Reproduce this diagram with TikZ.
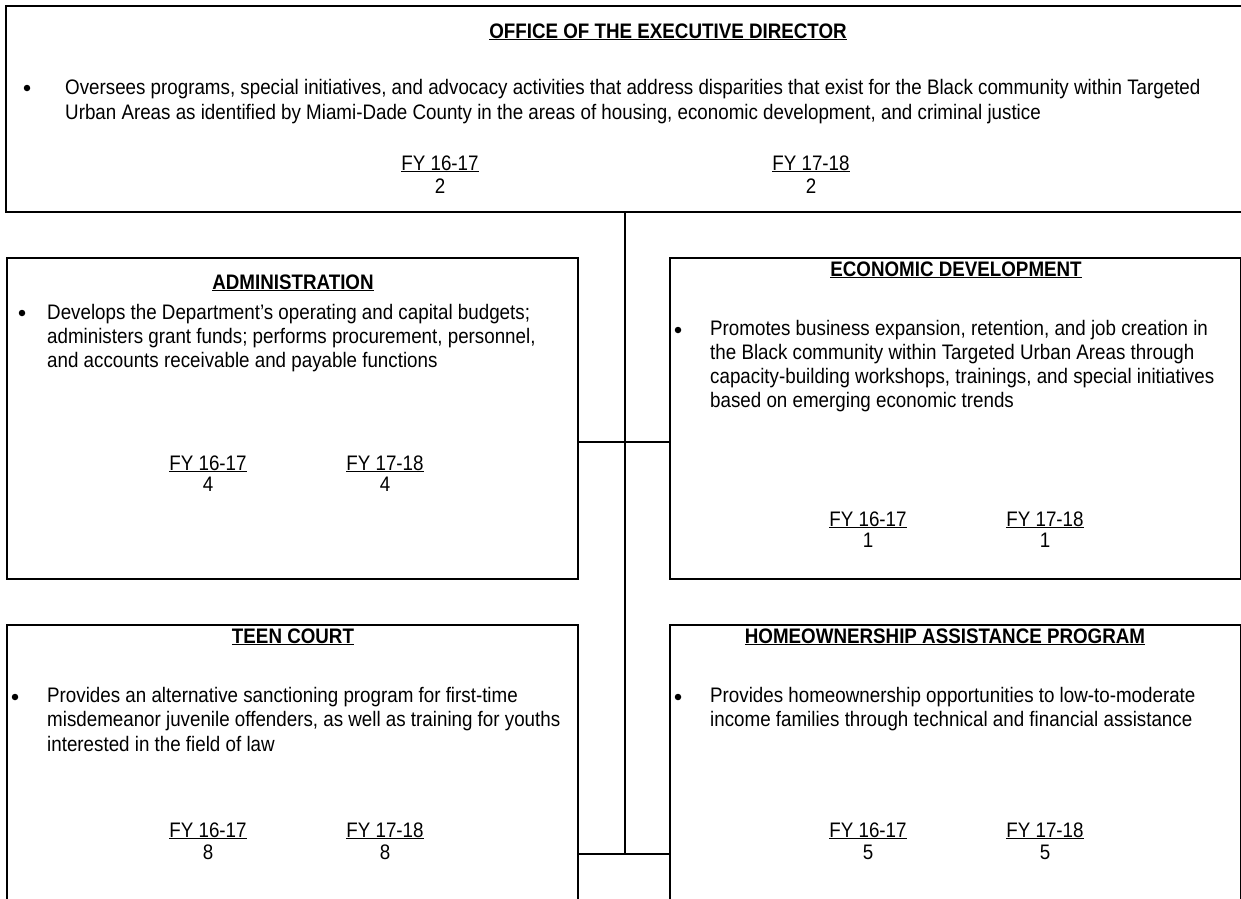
\documentclass[tikz,border=0pt]{standalone}
\usepackage{fontspec}
\setmainfont{Liberation Sans}[FakeStretch=0.894]
\begin{document}
\begin{tikzpicture}[x=1pt,y=-1pt,
  box/.style={draw=black,line width=1.5pt,rectangle,inner sep=0pt},
  conn/.style={draw=black,line width=1.5pt},
  txt/.style={anchor=base west,inner sep=0pt,font=\fontsize{21}{24}\selectfont},
  ttl/.style={anchor=base,inner sep=0pt,font=\fontsize{21}{24}\selectfont\bfseries},
  fy/.style={anchor=base,inner sep=0pt,font=\fontsize{21}{24}\selectfont},
  dot/.style={circle,fill=black,inner sep=0pt,minimum size=6.5pt}]
\useasboundingbox (0,0) rectangle (1241,898);
\clip (0,0) rectangle (1241,898);
% boxes
\node[box,minimum width=1238pt,minimum height=206pt] (top) at (625,109) {};
\node[box,minimum width=571pt,minimum height=321pt] (admin) at (292.5,418.5) {};
\node[box,minimum width=571pt,minimum height=321pt] (econ) at (955.5,418.5) {};
\node[box,minimum width=571pt,minimum height=321pt] (teen) at (292.5,785.5) {};
\node[box,minimum width=571pt,minimum height=321pt] (hap) at (955.5,785.5) {};
% connectors
\coordinate (j1) at (625,442);
\coordinate (j2) at (625,854);
\draw[conn] (top.south -| j1) -- (j2);
\draw[conn] (admin.east |- j1) -- (econ.west |- j1);
\draw[conn] (teen.east |- j2) -- (hap.west |- j2);
% top box text
\node[ttl] (ttop) at (668,38) {\underline{OFFICE OF THE EXECUTIVE DIRECTOR}};
\node[dot] (btop) at (27,88) {};
\node[txt] (top1) at (65,94) {Oversees programs, special initiatives, and advocacy activities that address disparities that exist for the Black community within Targeted};
\node[txt] (top2) at (65,119) {Urban Areas as identified by Miami-Dade County in the areas of housing, economic development, and criminal justice};
\node[fy] (topfya) at (440,170) {\underline{FY 16-17}};
\node[fy] (topna) at (440,193) {2};
\node[fy] (topfyb) at (811,170) {\underline{FY 17-18}};
\node[fy] (topnb) at (811,193) {2};
% administration
\node[ttl] (tadmin) at (293,289) {\underline{ADMINISTRATION}};
\node[dot] (badmin) at (22,313) {};
\node[txt] (admin1) at (47,319) {Develops the Department’s operating and capital budgets;};
\node[txt] (admin2) at (47,343) {administers grant funds; performs procurement, personnel,};
\node[txt] (admin3) at (47,367) {and accounts receivable and payable functions};
\node[fy] (adminfya) at (208,470) {\underline{FY 16-17}};
\node[fy] (adminna) at (208,491) {4};
\node[fy] (adminfyb) at (385,470) {\underline{FY 17-18}};
\node[fy] (adminnb) at (385,491) {4};
% economic development
\node[ttl] (tecon) at (956,276) {\underline{ECONOMIC DEVELOPMENT}};
\node[dot] (becon) at (678,330) {};
\node[txt] (econ1) at (710,335) {Promotes business expansion, retention, and job creation in};
\node[txt] (econ2) at (710,359) {the Black community within Targeted Urban Areas through};
\node[txt] (econ3) at (710,383) {capacity-building workshops, trainings, and special initiatives};
\node[txt] (econ4) at (710,407) {based on emerging economic trends};
\node[fy] (econfya) at (868,526) {\underline{FY 16-17}};
\node[fy] (econna) at (868,547) {1};
\node[fy] (econfyb) at (1045,526) {\underline{FY 17-18}};
\node[fy] (econnb) at (1045,547) {1};
% teen court
\node[ttl] (tteen) at (293,643) {\underline{TEEN COURT}};
\node[dot] (bteen) at (15,697) {};
\node[txt] (teen1) at (47,702) {Provides an alternative sanctioning program for first-time};
\node[txt] (teen2) at (47,726) {misdemeanor juvenile offenders, as well as training for youths};
\node[txt] (teen3) at (47,751) {interested in the field of law};
\node[fy] (teenfya) at (208,837) {\underline{FY 16-17}};
\node[fy] (teenna) at (208,859) {8};
\node[fy] (teenfyb) at (385,837) {\underline{FY 17-18}};
\node[fy] (teennb) at (385,859) {8};
% homeownership
\node[ttl] (thap) at (945,643) {\underline{HOMEOWNERSHIP ASSISTANCE PROGRAM}};
\node[dot] (bhap) at (678,697) {};
\node[txt] (hap1) at (710,702) {Provides homeownership opportunities to low-to-moderate};
\node[txt] (hap2) at (710,726) {income families through technical and financial assistance};
\node[fy] (hapfya) at (868,837) {\underline{FY 16-17}};
\node[fy] (hapna) at (868,859) {5};
\node[fy] (hapfyb) at (1045,837) {\underline{FY 17-18}};
\node[fy] (hapnb) at (1045,859) {5};
\end{tikzpicture}
\end{document}
